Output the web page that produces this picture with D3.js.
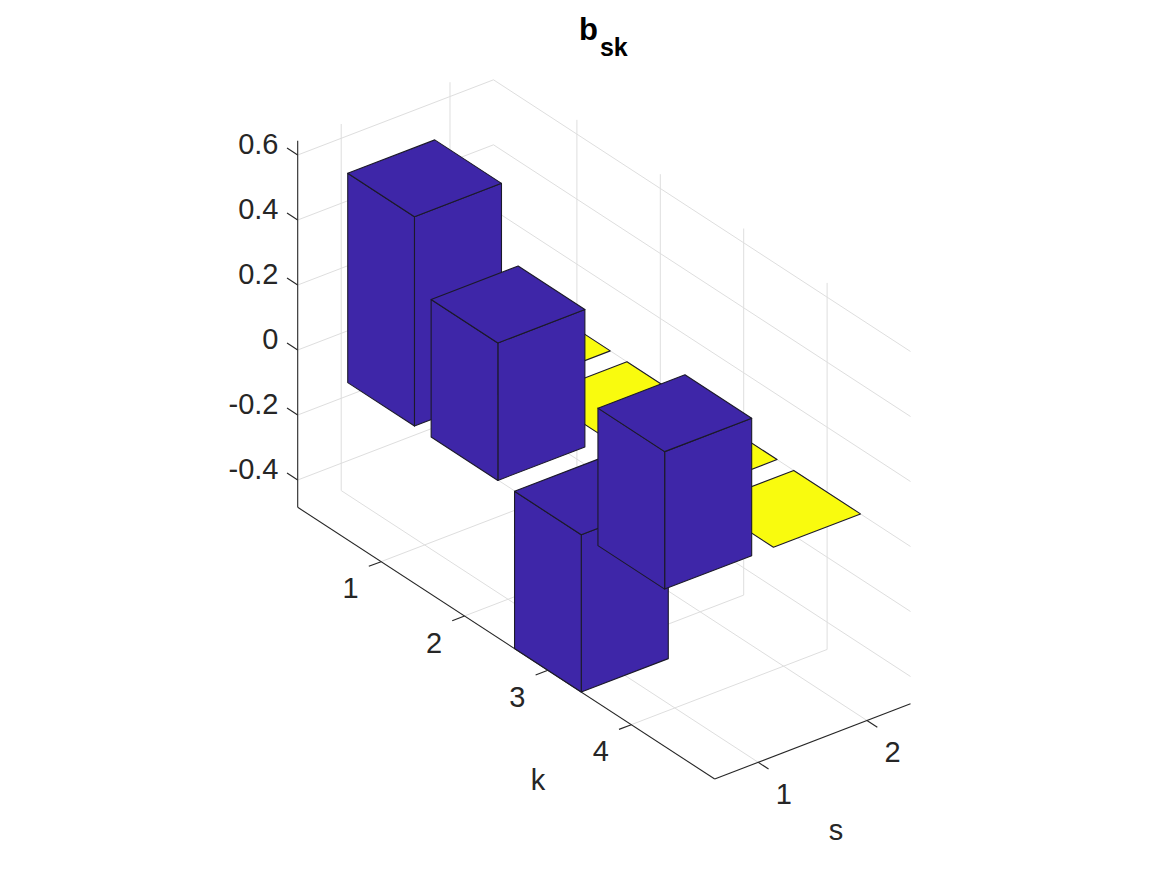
<!DOCTYPE html>
<html><head><meta charset="utf-8">
<script src="https://cdn.jsdelivr.net/npm/d3@7"></script>
<style>html,body{margin:0;background:#fff}svg{display:block}text{font-family:"Liberation Sans",Helvetica,Arial,sans-serif}</style>
</head><body><script>
// Data
const kCategories = [1, 2, 3, 4];
const sCategories = [1, 2];
const seriesS1 = [0.644, 0.423, -0.484, 0.423];
const seriesS2 = [0, 0, 0, 0];
const zTicks = [-0.4, -0.2, 0, 0.2, 0.4, 0.6];
const zTickLabels = ["-0.4", "-0.2", "0", "0.2", "0.4", "0.6"];
const barColors = ["#3e26a8", "#f9fb0e"];

const W = 1167, H = 875, barHalf = 0.4;
const kDomain = [0, 5], sDomain = [0.6, 2.4], zDomain = [-0.484, 0.644];

// oblique projection assembled from linear scales
const kx = d3.scaleLinear().domain(kDomain).range([0, 417]);
const ky = d3.scaleLinear().domain(kDomain).range([0, 271.7]);
const sx = d3.scaleLinear().domain(sDomain).range([0, 195.8]);
const sy = d3.scaleLinear().domain(sDomain).range([0, -75.2]);
const zy = d3.scaleLinear().domain([0, 0.6]).range([350, 155]);
const X0 = 297.7;
const P = (k, s, z) => [X0 + kx(k) + sx(s), ky(k) + sy(s) + zy(z)];
const line = d3.line();

const svg = d3.select("body").append("svg").attr("width", W).attr("height", H);
const seg = (g, a, b, cls) => g.append("path").attr("d", line([a, b])).attr("class", cls)
  .attr("fill", "none");

const [k0, k1] = kDomain, [s0, s1] = sDomain, [zb, zt] = zDomain;

// grid on the two back walls and the floor
const grid = svg.append("g").attr("stroke", "#dedede").attr("stroke-width", 1);
zTicks.forEach(z => {
  seg(grid, P(k0, s0, z), P(k0, s1, z));
  seg(grid, P(k0, s1, z), P(k1, s1, z));
});
sCategories.forEach(s => {
  seg(grid, P(k0, s, zb), P(k0, s, zt));
  seg(grid, P(k0, s, zb), P(k1, s, zb));
});
kCategories.forEach(k => {
  seg(grid, P(k, s1, zb), P(k, s1, zt));
  seg(grid, P(k, s0, zb), P(k, s1, zb));
});

// axis lines and ticks
const axis = svg.append("g").attr("stroke", "#262626").attr("stroke-width", 1.1);
seg(axis, P(k0, s0, zb), P(k0, s0, zt));
seg(axis, P(k0, s0, zb), P(k1, s0, zb));
seg(axis, P(k1, s0, zb), P(k1, s1, zb));
zTicks.forEach(z => seg(axis, P(k0, s0, z), P(k0 - 0.128, s0, z)));
kCategories.forEach(k => seg(axis, P(k, s0, zb), P(k, s0 - 0.113, zb)));
sCategories.forEach(s => seg(axis, P(k1, s, zb), P(k1 + 0.124, s, zb)));

// bars, back to front
function bar(k, s, v, color) {
  const g = svg.append("g").attr("fill", color).attr("stroke", "#1c1a2a")
    .attr("stroke-width", 1.1).attr("stroke-linejoin", "round");
  const a = k - barHalf, b = k + barHalf, c = s - barHalf, d = s + barHalf;
  const hi = Math.max(v, 0), lo = Math.min(v, 0);
  const face = pts => g.append("path").attr("d", line(pts) + "Z");
  if (hi !== lo) {
    face([P(b, c, hi), P(b, d, hi), P(b, d, lo), P(b, c, lo)]);
    face([P(a, c, hi), P(b, c, hi), P(b, c, lo), P(a, c, lo)]);
  }
  face([P(a, c, hi), P(a, d, hi), P(b, d, hi), P(b, c, hi)]);
}
kCategories.forEach((k, i) => bar(k, sCategories[1], seriesS2[i], barColors[1]));
kCategories.forEach((k, i) => bar(k, sCategories[0], seriesS1[i], barColors[0]));

// text
const labels = svg.append("g").attr("fill", "#262626").attr("font-size", 29);
const put = (x, y, t, anchor) => labels.append("text").attr("x", x).attr("y", y)
  .attr("text-anchor", anchor).attr("dy", "0.355em").text(t);
zTicks.forEach((z, i) => {
  const p = P(k0, s0, z);
  put(278.5, p[1] - 11, zTickLabels[i], "end");
});
kCategories.forEach(k => {
  const p = P(k, s0, zb);
  put(p[0] - 30.5, p[1] + 26.5, String(k), "middle");
});
sCategories.forEach(s => {
  const p = P(k1, s, zb);
  put(p[0] + 25.5, p[1] + 31, String(s), "middle");
});
put(538, 779.5, "k", "middle");
put(836, 829.5, "s", "middle");

const title = svg.append("text").attr("x", 579).attr("y", 40)
  .attr("font-weight", "bold").attr("fill", "#000").attr("font-size", 31);
title.append("tspan").text("b");
title.append("tspan").attr("font-size", 25).attr("dx", 2).attr("dy", 15.5).text("sk");
</script></body></html>
